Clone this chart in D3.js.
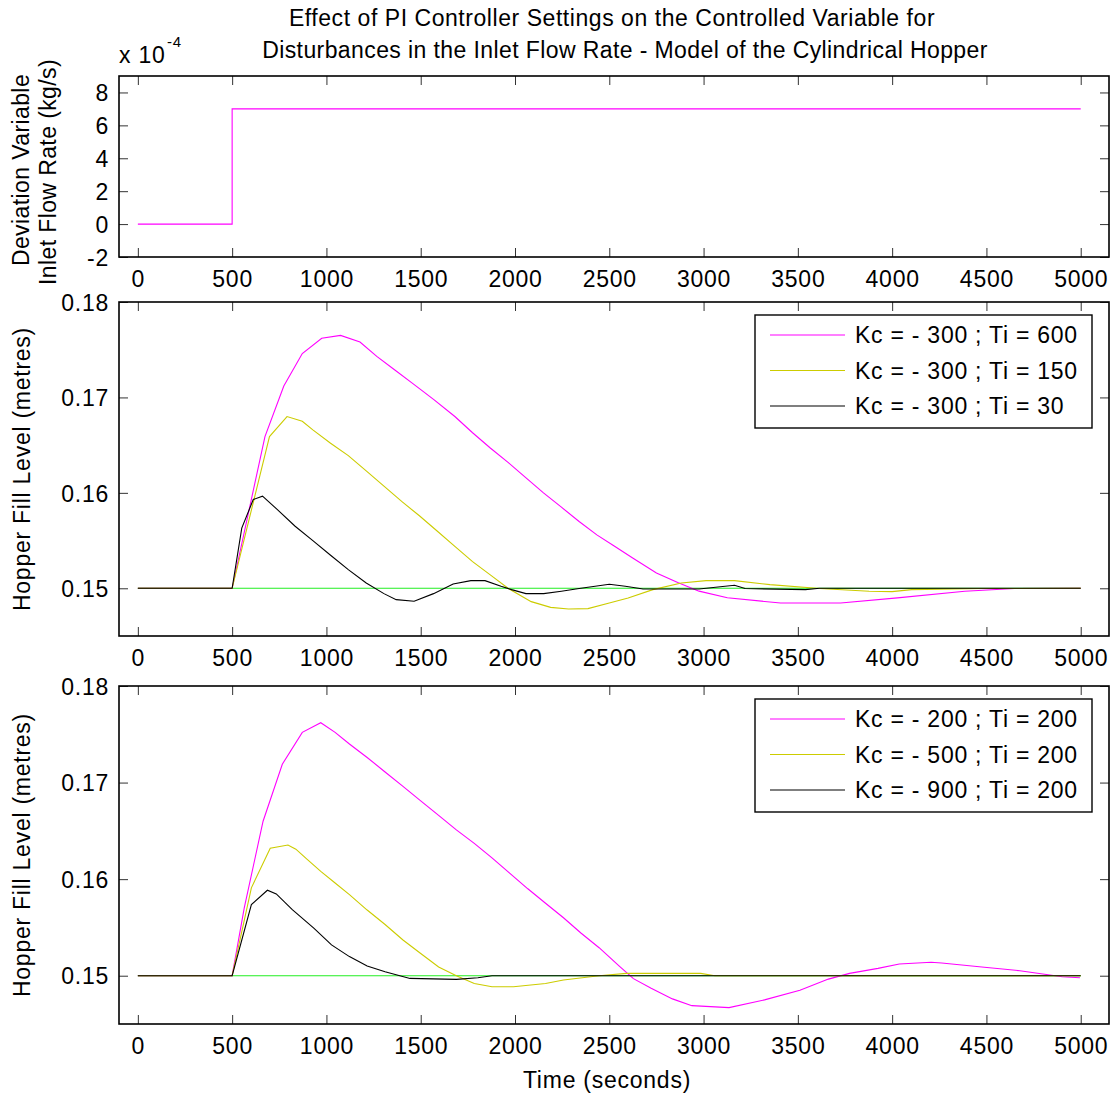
<!DOCTYPE html>
<html>
<head>
<meta charset="utf-8">
<script src="https://cdn.jsdelivr.net/npm/d3@7"></script>
<style>
  html, body { margin: 0; padding: 0; background: #fff; }
  svg text { font-family: "Liberation Sans", Arial, sans-serif; fill: #000; letter-spacing: 0.75px; }
</style>
</head>
<body>
<svg id="fig" width="1116" height="1095"></svg>
<script>
// ---- data -------------------------------------------------------------
const timeTicks = [0, 500, 1000, 1500, 2000, 2500, 3000, 3500, 4000, 4500, 5000];
const flowTicks = [-2, 0, 2, 4, 6, 8];            // x 10^-4 kg/s
const levelTicks = [0.15, 0.16, 0.17, 0.18];       // metres

// inlet flow disturbance (deviation variable, x 10^-4 kg/s)
const flowStep = [[0, 0], [500, 0], [500, 7], [5000, 7]];

// level set point
const setPoint = [[0, 0.15], [5000, 0.15]];

// Kc = -300, varying Ti
const kc300ti600 = [[0,0.15],[500,0.15],[674,0.1659],[774,0.1712],[872,0.1746],[975,0.1762],[1075,0.1765],
  [1178,0.1758],[1267,0.1743],[1361,0.1729],[1455,0.1715],[1568,0.1698],[1681,0.1680],[1775,0.1663],
  [1869,0.1647],[1963,0.1632],[2057,0.1616],[2151,0.1600],[2246,0.1585],[2340,0.1570],[2434,0.1556],
  [2528,0.1544],[2622,0.1532],[2750,0.1516],[2863,0.1506],[2976,0.1497],[3126,0.1490],[3408,0.14846],
  [3727,0.14846],[4028,0.1490],[4385,0.14969],[4649,0.14997],[5000,0.15]];
const kc300ti150 = [[0,0.15],[500,0.15],[698,0.1659],[791,0.1680],[872,0.1675],[928,0.1666],[1022,0.1652],
  [1116,0.1639],[1211,0.1623],[1305,0.1607],[1399,0.1591],[1493,0.1576],[1587,0.1560],[1681,0.1544],
  [1775,0.1528],[1869,0.1514],[1963,0.1500],[2086,0.1486],[2189,0.1480],[2284,0.14783],[2387,0.14787],
  [2500,0.14846],[2600,0.14899],[2731,0.14986],[2882,0.15056],[3013,0.1508],[3164,0.1508],[3352,0.15038],
  [3615,0.14997],[3878,0.14969],[4000,0.14965],[4103,0.14986],[4479,0.14997],[5000,0.15]];
const kc300ti30 = [[0,0.15],[500,0.15],[551,0.1563],[612,0.1593],[661,0.15965],[740,0.15825],[834,0.1565],
  [928,0.1550],[1022,0.15346],[1116,0.15196],[1211,0.15056],[1305,0.14944],[1370,0.14881],[1465,0.14864],
  [1568,0.14944],[1672,0.15045],[1766,0.1508],[1841,0.1508],[1926,0.15021],[1982,0.14986],[2058,0.14944],
  [2152,0.14944],[2246,0.14969],[2340,0.14997],[2500,0.15042],[2585,0.15021],[2679,0.14993],[2976,0.14993],
  [3164,0.15031],[3220,0.14997],[3540,0.14986],[3615,0.15],[5000,0.15]];

// Ti = 200, varying Kc
const kc200ti200 = [[0,0.15],[500,0.15],[564,0.1570],[664,0.1660],[766,0.1719],[872,0.1752],[970,0.1762],
  [1046,0.1752],[1122,0.1740],[1216,0.1726],[1311,0.1711],[1406,0.1696],[1500,0.1681],[1595,0.1666],
  [1689,0.1651],[1784,0.1637],[1878,0.1622],[1973,0.1606],[2068,0.1590],[2162,0.1575],[2257,0.1560],
  [2351,0.1544],[2446,0.1529],[2553,0.1510],[2628,0.1497],[2722,0.1487],[2835,0.1476],[2938,0.1469],
  [3135,0.1467],[3323,0.1475],[3511,0.1485],[3662,0.14965],[3774,0.15024],[3925,0.15076],[4038,0.15122],
  [4207,0.15139],[4263,0.15132],[4489,0.15087],[4677,0.15052],[4902,0.1499],[4996,0.14979]];
const kc500ti200 = [[0,0.15],[500,0.15],[602,0.1591],[702,0.1632],[796,0.16354],[838,0.1631],[895,0.1621],
  [970,0.1608],[1046,0.1596],[1122,0.1584],[1216,0.1568],[1311,0.1553],[1406,0.1537],[1500,0.1523],
  [1595,0.1509],[1689,0.1500],[1784,0.1492],[1878,0.14885],[1992,0.14885],[2162,0.1492],[2257,0.14955],
  [2446,0.1500],[2590,0.15024],[2985,0.15024],[3060,0.15],[5000,0.15]];
const kc900ti200 = [[0,0.15],[500,0.15],[602,0.15736],[687,0.15885],[734,0.15847],[819,0.15684],[933,0.15493],
  [1027,0.15319],[1122,0.15198],[1216,0.15101],[1311,0.15042],[1443,0.14972],[1689,0.14962],[1803,0.14979],
  [1878,0.15],[5000,0.15]];

const legendTi = ["Kc = - 300 ; Ti = 600", "Kc = - 300 ; Ti = 150", "Kc = - 300 ; Ti = 30"];
const legendKc = ["Kc = - 200 ; Ti = 200", "Kc = - 500 ; Ti = 200", "Kc = - 900 ; Ti = 200"];

// ---- styling ------------------------------------------------------------
const MAGENTA = "#ff00ff", YELLOW = "#cccc00", BLACK = "#000000", GREEN = "#22ee22";
const FONT = 23;

const svg = d3.select("#fig");
svg.append("rect").attr("width", 1116).attr("height", 1095).attr("fill", "#fff");

const left = 119, right = 1109;
const x = d3.scaleLinear().domain([-100, 5150]).range([left, right]);

function panel(top, bottom, yDomain, yTicks, tickFmt) {
  const y = d3.scaleLinear().domain(yDomain).range([bottom, top]);
  const g = svg.append("g");
  const tickLen = 9;

  // bottom tick labels and inward tick marks (both sides)
  const xAxisB = d3.axisBottom(x).tickValues(timeTicks).tickSizeInner(-tickLen).tickSizeOuter(0)
    .tickPadding(14).tickFormat(d => String(d));
  const gb = g.append("g").attr("transform", `translate(0,${bottom})`).call(xAxisB);
  gb.select(".domain").remove();
  gb.selectAll("line").attr("stroke", "#333");
  gb.selectAll("text").attr("font-size", FONT).attr("dy", "0.71em").attr("y", 14)
    .style("font-family", '"Liberation Sans", Arial, sans-serif');

  const xAxisT = d3.axisTop(x).tickValues(timeTicks).tickSizeInner(-tickLen).tickSizeOuter(0).tickFormat("");
  const gt = g.append("g").attr("transform", `translate(0,${top})`).call(xAxisT);
  gt.select(".domain").remove();
  gt.selectAll("line").attr("stroke", "#333");

  const yAxisL = d3.axisLeft(y).tickValues(yTicks).tickSizeInner(-tickLen).tickSizeOuter(0)
    .tickPadding(10).tickFormat(tickFmt);
  const gl = g.append("g").attr("transform", `translate(${left},0)`).call(yAxisL);
  gl.select(".domain").remove();
  gl.selectAll("line").attr("stroke", "#333");
  gl.selectAll("text").attr("font-size", FONT).attr("dy", "0.36em")
    .style("font-family", '"Liberation Sans", Arial, sans-serif');

  const yAxisR = d3.axisRight(y).tickValues(yTicks).tickSizeInner(-tickLen).tickSizeOuter(0).tickFormat("");
  const gr = g.append("g").attr("transform", `translate(${right},0)`).call(yAxisR);
  gr.select(".domain").remove();
  gr.selectAll("line").attr("stroke", "#333");

  // axes box
  g.append("rect").attr("x", left).attr("y", top).attr("width", right - left).attr("height", bottom - top)
    .attr("fill", "none").attr("stroke", "#000").attr("stroke-width", 1.6);

  const plot = g.append("g");
  function line(data, color) {
    plot.append("path").datum(data).attr("fill", "none").attr("stroke", color).attr("stroke-width", 1.1)
      .attr("d", d3.line().x(d => x(d[0])).y(d => y(d[1])));
  }
  return { y, g, line, top, bottom };
}

function legend(p, labels, colors) {
  const bx = 755, by = p.top + 13, bw = 337, bh = 113;
  const lg = p.g.append("g");
  lg.append("rect").attr("x", bx).attr("y", by).attr("width", bw).attr("height", bh)
    .attr("fill", "#fff").attr("stroke", "#000").attr("stroke-width", 1.4);
  labels.forEach((lab, i) => {
    const cy = by + 20 + i * 35.5;
    lg.append("line").attr("x1", bx + 15).attr("x2", bx + 90).attr("y1", cy).attr("y2", cy)
      .attr("stroke", colors[i]).attr("stroke-width", 1.1);
    lg.append("text").attr("x", bx + 100).attr("y", cy).attr("dy", "0.36em")
      .attr("font-size", FONT).text(lab);
  });
}

// ---- title --------------------------------------------------------------
svg.append("text").attr("x", 612).attr("y", 26).attr("text-anchor", "middle").attr("font-size", FONT)
  .style("letter-spacing", "0.55px")
  .text("Effect of PI Controller Settings on the Controlled Variable for");
svg.append("text").attr("x", 625).attr("y", 58).attr("text-anchor", "middle").attr("font-size", FONT)
  .style("letter-spacing", "0.4px")
  .text("Disturbances in the Inlet Flow Rate - Model of the Cylindrical Hopper");

// ---- panel 1: inlet flow disturbance ---------------------------------------
const p1 = panel(76, 257, [-2, 9], flowTicks, d => String(d));
p1.line(flowStep, MAGENTA);
svg.append("text").attr("x", 119).attr("y", 63).attr("font-size", FONT).text("x 10");
svg.append("text").attr("x", 167).attr("y", 47).attr("font-size", 15).text("-4");
svg.append("text").attr("transform", "translate(29,170) rotate(-90)").attr("text-anchor", "middle")
  .attr("font-size", FONT).style("letter-spacing", "0.4px").text("Deviation Variable");
svg.append("text").attr("transform", "translate(56,172) rotate(-90)").attr("text-anchor", "middle")
  .attr("font-size", FONT).style("letter-spacing", "0.4px").text("Inlet Flow Rate (kg/s)");

// ---- panel 2: varying integral time -----------------------------------------
const levelFmt = d => d3.format(".2f")(d);
const p2 = panel(302, 636, [0.145, 0.18], levelTicks, levelFmt);
p2.line(setPoint, GREEN);
p2.line(kc300ti600, MAGENTA);
p2.line(kc300ti150, YELLOW);
p2.line(kc300ti30, BLACK);
legend(p2, legendTi, [MAGENTA, YELLOW, BLACK]);
svg.append("text").attr("transform", `translate(30,${(302 + 636) / 2}) rotate(-90)`).attr("text-anchor", "middle")
  .attr("font-size", FONT).text("Hopper Fill Level (metres)");

// ---- panel 3: varying gain --------------------------------------------------
const p3 = panel(686, 1024, [0.145, 0.18], levelTicks, levelFmt);
p3.line(setPoint, GREEN);
p3.line(kc200ti200, MAGENTA);
p3.line(kc500ti200, YELLOW);
p3.line(kc900ti200, BLACK);
legend(p3, legendKc, [MAGENTA, YELLOW, BLACK]);
svg.append("text").attr("transform", `translate(30,${(686 + 1024) / 2}) rotate(-90)`).attr("text-anchor", "middle")
  .attr("font-size", FONT).text("Hopper Fill Level (metres)");

svg.append("text").attr("x", 607).attr("y", 1088).attr("text-anchor", "middle").attr("font-size", FONT)
  .text("Time (seconds)");
</script>
</body>
</html>
